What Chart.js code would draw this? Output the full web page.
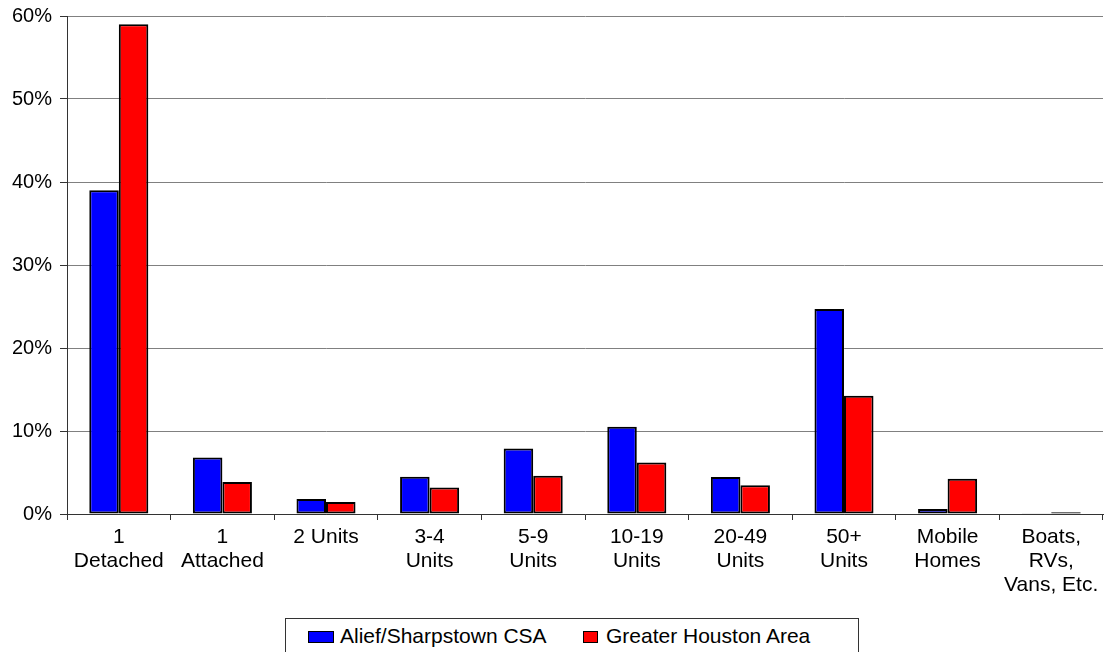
<!DOCTYPE html>
<html>
<head>
<meta charset="utf-8">
<script src="https://cdn.jsdelivr.net/npm/chart.js@4.4.1/dist/chart.umd.min.js"></script>
<style>
  html, body { margin: 0; padding: 0; background: #fff; }
  #wrap { position: relative; width: 1106px; height: 652px; overflow: hidden; }
  #legend {
    position: absolute; left: 285px; top: 618px; width: 574px; height: 50px;
    box-sizing: border-box; border: 1px solid #333; background: #fff;
    font: 21px "Liberation Sans", Arial, sans-serif; color: #000;
  }
  #legend .item { position: absolute; white-space: nowrap; line-height: 24px; }
  #legend .sw { position: absolute; height: 12px; box-sizing: border-box; border: 1.5px solid #000; }
</style>
</head>
<body>
<div id="wrap">
  <canvas id="housingChart" width="1106" height="652"></canvas>
  <div id="legend"></div>
</div>
<script>
// カテゴリ
const categories = [
  ['1', 'Detached'],
  ['1', 'Attached'],
  '2 Units',
  ['3-4', 'Units'],
  ['5-9', 'Units'],
  ['10-19', 'Units'],
  ['20-49', 'Units'],
  ['50+', 'Units'],
  ['Mobile', 'Homes'],
  ['Boats,', 'RVs,', 'Vans, Etc.']
];

// 系列データ (%)
const seriesNames = ['Alief/Sharpstown CSA', 'Greater Houston Area'];
const aliefValues = [39.0, 6.8, 1.8, 4.5, 7.9, 10.5, 4.45, 24.7, 0.6, 0.1];
const houstonValues = [59.0, 3.85, 1.45, 3.2, 4.6, 6.2, 3.45, 14.25, 4.25, 0.2];

// Y軸目盛
const yTicks = [0, 10, 20, 30, 40, 50, 60];

const seriesColors = ['#0000FF', '#FF0000'];
const fontFamily = '"Liberation Sans", Arial, sans-serif';

const chartConfig = {
  type: 'bar',
  data: {
    labels: categories,
    datasets: [
      {
        label: seriesNames[0],
        data: aliefValues,
        backgroundColor: seriesColors[0],
        borderColor: '#000',
        borderWidth: 2,
        borderSkipped: false
      },
      {
        label: seriesNames[1],
        data: houstonValues,
        backgroundColor: seriesColors[1],
        borderColor: '#000',
        borderWidth: 2,
        borderSkipped: false
      }
    ]
  },
  options: {
    responsive: false,
    animation: false,
    layout: { padding: { top: 16, right: 3, left: 0, bottom: 0 } },
    datasets: {
      bar: { categoryPercentage: 0.57, barPercentage: 1.0 }
    },
    scales: {
      x: {
        grid: {
          offset: true,
          drawOnChartArea: false,
          color: '#333',
          tickLength: 6,
          lineWidth: 1
        },
        border: { color: '#333', width: 1 },
        ticks: {
          color: '#000',
          font: { family: fontFamily, size: 21, lineHeight: 1.15 },
          padding: 5,
          maxRotation: 0,
          autoSkip: false
        },
        afterFit: scale => {
          scale.height = 652 - 514;
          scale.paddingLeft = 0;
          scale.paddingRight = 0;
        }
      },
      y: {
        min: 0,
        max: 60,
        afterBuildTicks: scale => { scale.ticks = yTicks.map(v => ({ value: v })); },
        grid: {
          color: '#808080',
          tickColor: '#333',
          tickLength: 7,
          lineWidth: 1
        },
        border: { color: '#333', width: 1 },
        ticks: {
          color: '#000',
          font: { family: fontFamily, size: 20 },
          padding: 8,
          callback: v => v + '%'
        },
        afterFit: scale => {
          scale.width = 67;
          scale.paddingTop = 0;
          scale.paddingBottom = 0;
        }
      }
    },
    plugins: {
      legend: { display: false },
      tooltip: { enabled: false }
    }
  }
};

new Chart(document.getElementById('housingChart'), chartConfig);

// 凡例 (枠付き)
const legendEl = document.getElementById('legend');
const legendLayout = [
  { swLeft: 22, swWidth: 26, textLeft: 54 },
  { swLeft: 297, swWidth: 15, textLeft: 320 }
];
seriesNames.forEach((name, i) => {
  const sw = document.createElement('div');
  sw.className = 'sw';
  sw.style.left = legendLayout[i].swLeft + 'px';
  sw.style.top = '12px';
  sw.style.width = legendLayout[i].swWidth + 'px';
  sw.style.background = seriesColors[i];
  legendEl.appendChild(sw);
  const txt = document.createElement('span');
  txt.className = 'item';
  txt.style.left = legendLayout[i].textLeft + 'px';
  txt.style.top = '5px';
  txt.textContent = name;
  legendEl.appendChild(txt);
});
</script>
</body>
</html>
